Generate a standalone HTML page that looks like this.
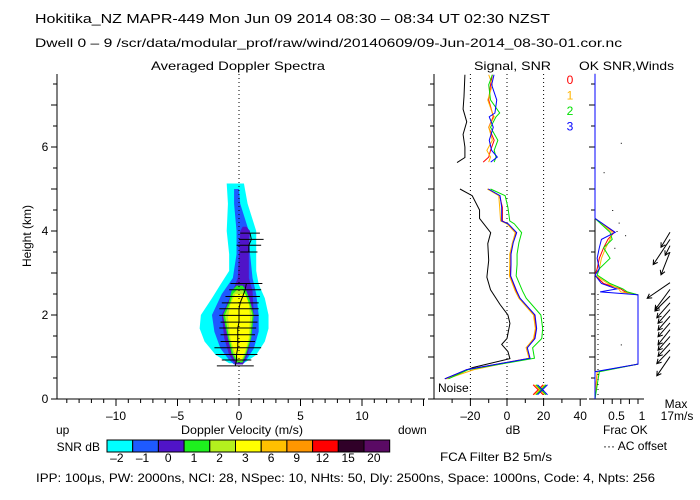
<!DOCTYPE html>
<html><head><meta charset="utf-8">
<style>
html,body{margin:0;padding:0;background:#fff;}
svg{display:block;font-family:"Liberation Sans",sans-serif;}
text{font-size:12px;fill:#000;}
</style></head>
<body>
<svg id="chart" width="700" height="500" viewBox="0 0 700 500" xmlns="http://www.w3.org/2000/svg">
<rect width="700" height="500" fill="#fff"/>
<text x="35" y="23" textLength="515" lengthAdjust="spacingAndGlyphs" style="font-size:13px">Hokitika_NZ   MAPR-449   Mon Jun 09 2014 08:30 – 08:34 UT 02:30 NZST</text>
<text x="35" y="47" textLength="587" lengthAdjust="spacingAndGlyphs">Dwell   0  –   9     /scr/data/modular_prof/raw/wind/20140609/09-Jun-2014_08-30-01.cor.nc</text>
<text x="238" y="70" text-anchor="middle" textLength="174" lengthAdjust="spacingAndGlyphs">Averaged Doppler Spectra</text>
<text x="474" y="70" textLength="77" lengthAdjust="spacingAndGlyphs">Signal, SNR</text>
<text x="579" y="70" textLength="95" lengthAdjust="spacingAndGlyphs">OK SNR,Winds</text>
<text transform="translate(31,236) rotate(-90)" text-anchor="middle">Height (km)</text>
<text x="242" y="434" text-anchor="middle" textLength="122" lengthAdjust="spacingAndGlyphs">Doppler Velocity (m/s)</text>
<text x="56" y="434">up</text>
<text x="398" y="434">down</text>
<text x="513" y="434" text-anchor="middle">dB</text>
<text x="100" y="451" text-anchor="end">SNR dB</text>
<text x="440" y="461" textLength="112" lengthAdjust="spacingAndGlyphs">FCA Filter B2   5m/s</text>
<text x="603" y="434">Frac OK</text>
<text x="603" y="450" textLength="64" lengthAdjust="spacingAndGlyphs">··· AC offset</text>
<text x="676" y="408" text-anchor="middle">Max</text>
<text x="677" y="420" text-anchor="middle">17m/s</text>
<text x="438" y="392">Noise</text>
<text x="36" y="482" textLength="619" lengthAdjust="spacingAndGlyphs">IPP: 100μs,  PW: 2000ns,  NCI:  28,  NSpec: 10, NHts: 50,  Dly: 2500ns,  Space: 1000ns,  Code: 4,  Npts: 256</text>
<g id="g"></g>
</svg>
<script>
// ---- data ----
const cyanH=[0.85,1.05,1.37,1.68,2.0,2.4,2.73,3.05,3.45,4.0,4.65,5.13];
const cyanL=[-0.8,-1.9,-2.8,-3.2,-3.1,-2.2,-1.5,-0.8,-0.8,-1.0,-0.9,-1.0];
const cyanR=[0.4,1.4,2.1,2.4,2.4,2.1,1.6,1.4,1.4,1.4,0.7,0.4];
const blueH=[0.82,0.93,1.2,1.6,2.0,2.5,2.88,3.45,4.0,4.65,5.0];
const blueL=[-0.4,-0.8,-1.5,-2.0,-2.2,-1.4,-0.5,-0.2,-0.2,-0.4,-0.4];
const blueR=[0.3,0.6,1.2,1.6,1.6,1.4,1.1,0.9,0.8,0.1,0.0];
const purpH=[0.82,1.05,1.45,2.0,2.57,2.88,3.45,4.0,4.1];
const purpL=[-0.3,-0.8,-1.2,-1.4,-0.5,-0.1,0.0,0.1,0.3];
const purpR=[0.3,0.7,1.0,1.2,1.1,0.8,0.8,0.9,0.6];
const grnH=[0.87,1.08,1.45,2.0,2.33,2.57,2.7];
const grnL=[-0.2,-0.6,-0.9,-1.3,-0.8,-0.6,-0.2];
const grnR=[0.3,0.6,1.0,1.2,0.9,0.6,0.3];
const ygH=[0.9,1.1,1.45,2.0,2.3,2.5,2.62];
const ygL=[-0.1,-0.5,-0.8,-1.15,-0.7,-0.5,-0.1];
const ygR=[0.25,0.55,0.9,1.1,0.8,0.5,0.25];
const yelH=[0.93,1.13,1.45,1.95,2.26,2.5];
const yelL=[0,-0.4,-0.7,-0.9,-0.7,-0.3];
const yelR=[0.2,0.5,0.8,0.9,0.8,0.5];
const momH=[3.95,3.8,3.66,3.5,2.75,2.6,2.44,2.29,2.15,1.99,1.83,1.69,1.53,1.37,1.22,1.06,0.93,0.79];
const momV=[0.9,1.0,0.8,0.8,0.6,0.5,0.3,0.1,0.0,0.0,0.0,-0.1,-0.1,-0.1,-0.1,-0.2,-0.2,-0.3];
const momW=[0.8,1.0,1.0,0.7,1.3,1.3,1.4,1.5,1.6,1.6,1.5,1.5,1.4,1.4,1.9,1.7,1.2,1.5];
const upH=[7.72,7.48,7.12,6.81,6.72,6.47,6.16,5.92,5.76,5.64];
const upBlue=[-7.1,-8.4,-5.6,-6.6,-9.7,-7.5,-9.7,-8.4,-5.3,-8.9];
const upRed=[-8,-9,-10,-8,-7.5,-10,-7,-9,-10,-13];
const upOrange=[-10,-8,-10.5,-8,-7,-10,-8,-11,-9,-10];
const upGreen=[-8,-10,-9,-4,-6,-9,-5,-7,-6,-7];
const loH=[5.0,4.84,4.56,4.24,4.17,3.96,3.72,3.45,3.2,2.93,2.57,2.4,2.0,1.68,1.44,1.22,0.97,0.7,0.48];
const loBlue=[-10.2,-3.8,-2.9,-2.9,0.7,5.3,3.4,2.2,2.2,2.0,5.3,7.1,15.3,16.2,15.3,11.1,12.6,-22,-33.9];
const loRed=[-10.5,-4,-2.5,-2.5,0.5,5,3,2,2,1.6,5,7,15,15.8,15,10.5,12.3,-22,-33.5];
const loOrange=[-10.8,-4.5,-4,-3.5,0,4.5,3,1.5,1.5,1.3,4.5,6.5,14.5,15.5,14.5,10.5,12,-18,-33];
const loGreen=[-9,-1,0.5,1.5,4,8,6.5,5.5,5.5,5,8.5,10.5,18.5,19.5,19,14,15,-21,-32];
const sigUpH=[7.72,7.2,6.9,6.6,6.3,6.0,5.75,5.63];
const sigUp=[-23,-23.5,-24,-22,-24,-23,-23,-27.3];
const sigLoH=[5.0,4.84,4.5,4.3,3.96,3.7,3.3,2.9,2.6,2.25,2.0,1.8,1.44,1.3,1.13,0.96,0.75,0.48];
const sigLo=[-25.7,-19,-15,-15,-8.9,-10.5,-10,-11,-9,-3.8,0.5,1.6,0,-2.9,0.5,1.6,-18.6,-34];
const fracH=[7.74,4.3,3.97,3.8,3.6,3.35,3.1,2.95,2.75,2.62,2.55,2.48,0.83,0.65,0];
const fracBlue=[0,0,0.47,0.15,0.1,0.05,0.1,0,0.15,0.5,0.12,1,1,0,0];
const fracRed=[0,0,0.45,0.3,0.2,0.1,0.05,0,0.2,0.6,0.7,1,1,0.05,0];
const fracOrange=[0,0,0.4,0.35,0.25,0.15,0.1,0,0.3,0.55,0.6,1,1,0.05,0];
const fracGreen=[0,0,0.35,0.4,0.2,0.35,0.1,0.05,0.35,0.65,0.75,1,1,0.1,0];
const windH=[3.97,3.8,3.65,3.5,2.77,2.61,2.45,2.29,2.13,1.97,1.81,1.65,1.49,1.33,1.17,1.01];
const windU=[-7.5,-14,-4,-7.5,-19,-12.5,-12.5,-11,-10,-10,-10,-10,-10,-10,-11,-11];
const windV=[-12.5,-21,-8,-19,-13,-17,-12.5,-12.5,-11.5,-11.5,-11.5,-12.5,-11.5,-11,-11.5,-16];
const acDotH=[6.1,5.4,4.5,4.2,4.0,3.9,3.6,1.3];
const acDotF=[0.6,0.2,0.4,0.55,0.5,0.7,0.45,0.6];
const cbLabels=["–2","–1","0","1","2","3","6","9","12","15","20"];
const cbColors=["#00ffff","#1e5aff","#5014c8","#1ef01e","#b4f01e","#ffff00","#ffc000","#ff9600","#ff0000","#300028","#5a0a64"];
const velTicks=[-10,-5,0,5,10];
const dbTicks=[-20,0,20,40];
const hTicks=[0,2,4,6];

// ---- scales ----
const yH=h=>399-h*42;
const xV=v=>239+v*12.3;
const xDB=d=>507+d*1.83;
const xF=f=>595+f*43;
const NS='http://www.w3.org/2000/svg';
const g=document.getElementById('g');
function mk(tag,attrs,name){const e=document.createElementNS(NS,tag);for(const k in attrs)e.setAttribute(k,attrs[k]);


g.appendChild(e);return e;}
function poly(H,L,R,fill,name){const pts=[];for(let i=0;i<H.length;i++)pts.push(xV(L[i])+','+yH(H[i]));for(let i=H.length-1;i>=0;i--)pts.push(xV(R[i])+','+yH(H[i]));mk('polygon',{points:pts.join(' '),fill:fill},name);}
function line(H,X,fx,color,name,w){const pts=H.map((h,i)=>fx(X[i])+','+yH(h)).join(' ');mk('polyline',{points:pts,fill:'none',stroke:color,'stroke-width':w||1},name);}

poly(cyanH,cyanL,cyanR,cbColors[0],'snr-contour-minus2');
poly(blueH,blueL,blueR,cbColors[1],'snr-contour-minus1');
poly(purpH,purpL,purpR,cbColors[2],'snr-contour-0');
poly(grnH,grnL,grnR,cbColors[3],'snr-contour-1');
poly(ygH,ygL,ygR,cbColors[4],'snr-contour-2');
poly(yelH,yelL,yelR,cbColors[5],'snr-contour-3');
mk('line',{x1:xV(0),y1:74,x2:xV(0),y2:399,stroke:'#000','stroke-dasharray':'1,3'},'zero-velocity-line');
for(let i=0;i<momH.length;i++){mk('line',{x1:xV(momV[i]-momW[i]),x2:xV(momV[i]+momW[i]),y1:yH(momH[i]),y2:yH(momH[i]),stroke:'#000','stroke-width':1},'spectral-width-bar');}
line(momH.slice(0,4),momV.slice(0,4),xV,'#000','mean-velocity-upper',1);
line(momH.slice(4),momV.slice(4),xV,'#000','mean-velocity-lower',1);

mk('line',{x1:57,y1:74,x2:57,y2:399,stroke:'#000'},'doppler-y-axis');
mk('line',{x1:57,y1:399,x2:425,y2:399,stroke:'#000'},'doppler-x-axis');
mk('line',{x1:434,y1:74,x2:434,y2:399,stroke:'#000'},'signal-y-axis');
mk('line',{x1:434,y1:399,x2:587,y2:399,stroke:'#000'},'signal-x-axis');
mk('line',{x1:595,y1:74,x2:595,y2:399,stroke:'#000'},'frac-y-axis');
mk('line',{x1:595,y1:399,x2:644,y2:399,stroke:'#000'},'frac-x-axis');
for(let h=0;h<=7.5;h+=0.5){[57,434,595].forEach(x=>{mk('line',{x1:x-(h%1===0?6:4),x2:x,y1:yH(h),y2:yH(h),stroke:'#000'},'height-tick');});}
hTicks.forEach(h=>{const t=mk('text',{x:45,y:yH(h)+4,'text-anchor':'middle'},'height-tick-label');t.textContent=h;});
for(let v=-14;v<=15;v++){mk('line',{x1:xV(v),x2:xV(v),y1:399,y2:v%5===0?406:403,stroke:'#000'},'velocity-tick');}
velTicks.forEach(v=>{const t=mk('text',{x:xV(v),y:420,'text-anchor':'middle'},'velocity-tick-label');t.textContent=v<0?'–'+(-v):v;});
for(let d=-30;d<=40;d+=10){mk('line',{x1:xDB(d),x2:xDB(d),y1:399,y2:d%20===0?406:403,stroke:'#000'},'db-tick');}
dbTicks.forEach(d=>{const t=mk('text',{x:xDB(d),y:420,'text-anchor':'middle'},'db-tick-label');t.textContent=d<0?'–'+(-d):d;});
[-20,0,20].forEach(d=>mk('line',{x1:xDB(d),x2:xDB(d),y1:74,y2:399,stroke:'#000','stroke-dasharray':'1,3'},'db-grid-line'));
for(let f=0.2;f<=1.01;f+=0.2){mk('line',{x1:xF(f),x2:xF(f),y1:399,y2:404,stroke:'#000'},'frac-tick');}
[[0.5,'0.5'],[1,'1']].forEach(p=>{const t=mk('text',{x:xF(p[0])+(p[0]===1?4:0),y:420,'text-anchor':'middle'},'frac-tick-label');t.textContent=p[1];});

line(sigUpH,sigUp,xDB,'#000','signal-upper');
line(sigLoH,sigLo,xDB,'#000','signal-lower');
const ser=[['red','#ff0000',upRed,loRed,fracRed],['orange','#ffb400',upOrange,loOrange,fracOrange],['green','#00e000',upGreen,loGreen,fracGreen],['blue','#0000ff',upBlue,loBlue,fracBlue]];
ser.forEach(s=>{line(upH,s[2],xDB,s[1],'snr-upper-'+s[0]);line(loH,s[3],xDB,s[1],'snr-lower-'+s[0]);});
ser.forEach(s=>{line(fracH,s[4],xF,s[1],'frac-ok-'+s[0]);});
ser.forEach((s,i)=>{const cx=xDB(17+i*0.8),cy=yH(0.22);mk('path',{d:`M${cx-5},${cy-5}L${cx+5},${cy+5}M${cx+5},${cy-5}L${cx-5},${cy+5}`,stroke:s[1],fill:'none'},'noise-marker-'+s[0]);});
ser.forEach((s,i)=>{const t=mk('text',{x:570,y:84+i*15.5,'text-anchor':'middle',style:'fill:'+s[1]},'legend-entry-'+i);t.textContent=i;});
mk('line',{x1:598,y1:yH(2.5),x2:598,y2:399,stroke:'#000','stroke-dasharray':'1,4'},'ac-offset-line');
for(let i=0;i<acDotH.length;i++){mk('rect',{x:xF(acDotF[i]),y:yH(acDotH[i]),width:1,height:1,fill:'#000'},'ac-offset-dot');}
const ws=1.2;
for(let i=0;i<windH.length;i++){const x0=670,y0=yH(windH[i]);const dx=windU[i]*ws,dy=-windV[i]*ws;const x1=x0+dx,y1=y0+dy;const L=Math.hypot(dx,dy),ux=dx/L,uy=dy/L;const a=5;
const hx1=x1-a*(ux*0.87-uy*0.5),hy1=y1-a*(uy*0.87+ux*0.5),hx2=x1-a*(ux*0.87+uy*0.5),hy2=y1-a*(uy*0.87-ux*0.5);
mk('path',{d:`M${x0},${y0}L${x1},${y1}M${hx1},${hy1}L${x1},${y1}L${hx2},${hy2}`,stroke:'#000',fill:'none'},'wind-arrow');}
const cbx=107,cbw=25.7;
cbColors.forEach((c,i)=>{mk('rect',{x:cbx+i*cbw,y:440,width:cbw,height:12,fill:c,stroke:'#000','stroke-width':1},'colorbar-cell');
const t=mk('text',{x:cbx+i*cbw+cbw/2-3,y:462,'text-anchor':'middle'},'colorbar-label');t.textContent=cbLabels[i];});
</script>
</body></html>
